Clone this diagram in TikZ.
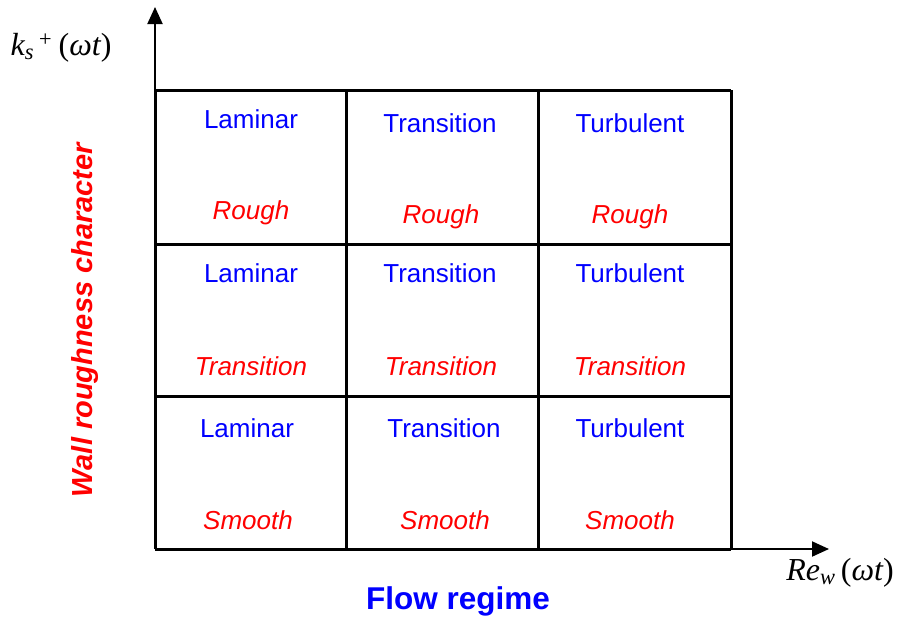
\documentclass[tikz,border=0pt]{standalone}
\usepackage{fontspec}
\setmainfont{Liberation Sans}
\newfontfamily\timesfont{Liberation Serif}
\usetikzlibrary{arrows.meta}
\definecolor{regimeblue}{RGB}{0,0,255}
\definecolor{wallred}{RGB}{255,0,0}
\tikzset{
	flowlabel/.style={text=regimeblue,anchor=base,inner sep=0pt,font=\fontsize{26}{30}\selectfont},
	walllabel/.style={text=wallred,anchor=base,inner sep=0pt,font=\fontsize{26}{30}\selectfont\itshape},
	axislabel/.style={inner sep=0pt,font=\fontsize{32}{36}\selectfont\timesfont\itshape},
	gridline/.style={line width=3pt},
	axisline/.style={line width=2pt,-{Triangle[length=17pt,width=15pt]}}
}

\begin{document}
\begin{tikzpicture}[x=1pt,y=-1pt]
			\useasboundingbox (0,0) rectangle (897,622);
			% axes
			\coordinate (origin) at (155,549);
			\coordinate (ytip) at (155,7);
			\coordinate (xtip) at (829,549);
			\draw [axisline] (origin)-- (ytip);
			\draw [axisline] (origin)-- (xtip);
			% grid
			\draw [gridline] (155,90)-- (731,90);
			\draw [gridline] (155,244)-- (731,244);
			\draw [gridline] (155,396)-- (731,396);
			\draw [gridline] (155,549)-- (731,549);
			\draw [gridline] (155,90)-- (155,549);
			\draw [gridline] (346,90)-- (346,549);
			\draw [gridline] (538,90)-- (538,549);
			\draw [gridline] (731,90)-- (731,549);
			% rough wall
			\node [flowlabel] (lamrough) at (251,128) {Laminar};
			\node [flowlabel] (trarough) at (440,132) {Transition};
			\node [flowlabel] (turrough) at (630,132) {Turbulent};
			\node [walllabel] (roughA) at (251,219) {Rough};
			\node [walllabel] (roughB) at (441,223) {Rough};
			\node [walllabel] (roughC) at (630,223) {Rough};
			% transitional wall
			\node [flowlabel] (lamtrans) at (251,282) {Laminar};
			\node [flowlabel] (tratrans) at (440,282) {Transition};
			\node [flowlabel] (turtrans) at (630,282) {Turbulent};
			\node [walllabel] (transA) at (251,375) {Transition};
			\node [walllabel] (transB) at (441,375) {Transition};
			\node [walllabel] (transC) at (630,375) {Transition};
			% smooth wall
			\node [flowlabel] (lamsmooth) at (247,437) {Laminar};
			\node [flowlabel] (trasmooth) at (444,437) {Transition};
			\node [flowlabel] (tursmooth) at (630,437) {Turbulent};
			\node [walllabel] (smoothA) at (248,529) {Smooth};
			\node [walllabel] (smoothB) at (445,529) {Smooth};
			\node [walllabel] (smoothC) at (630,529) {Smooth};
			% axis titles
			\node [axislabel] (ks) at (61,48) {k\textsubscript{s}\textsuperscript{\,+}\,{\upshape(}ωt{\upshape)}};
			\node [axislabel] (rew) at (840,573) {Re\textsubscript{w}\,{\upshape(}ωt{\upshape)}};
			\node [text=regimeblue,font=\fontsize{31.5}{36}\selectfont\bfseries] (regime) at (458,601) {Flow regime};
			\node [text=wallred,rotate=90,font=\fontsize{29}{34}\selectfont\bfseries\itshape] (wallchar) at (85,320) {Wall roughness character};
		\end{tikzpicture}
\end{document}
